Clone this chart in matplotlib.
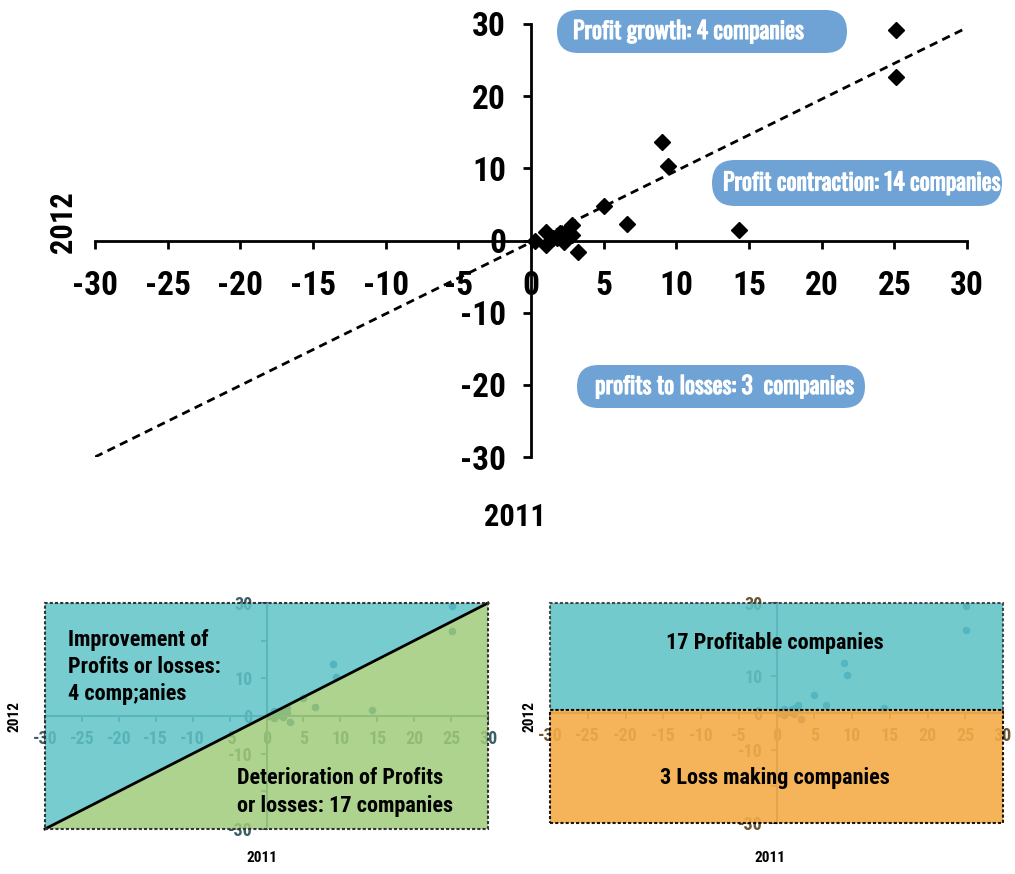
import matplotlib
matplotlib.use("Agg")
import matplotlib.pyplot as plt
import matplotlib.patheffects as pe
from matplotlib.patches import FancyBboxPatch, Rectangle, Polygon

plt.rcParams['font.family'] = ['Roboto Condensed', 'Open Sans Condensed', 'DejaVu Sans']
plt.rcParams['axes.unicode_minus'] = False
DIN = ['Oswald', 'Roboto Condensed', 'DejaVu Sans']

# profit 2011 vs 2012 per company
x2011 = [25.1, 25.1, 9.0, 9.4, 5.0, 6.6, 14.3, 3.2, 0.3, 1.0, 1.0, 1.5, 2.0, 2.3, 2.8, 2.8, 1.8, 2.5]
y2012 = [29.2, 22.6, 13.7, 10.3, 4.8, 2.3, 1.5, -1.6, 0.0, 1.2, -0.6, 0.4, 1.0, -0.2, 2.1, 0.7, 0.3, 1.3]

diag = [-30, 30]
main_xticks = list(range(-30, 31, 5))
main_yticks = list(range(-30, 31, 10))
small_yticks = [-30, -20, -10, 0, 10, 20, 30]
small_ylabels = ['-30', '', '-10', '0', '10', '', '30']

box_labels = ["Profit growth: 4 companies", "Profit contraction: 14 companies",
              "profits to losses: 3  companies"]
left_labels = [["Improvement of", "Profits or losses:", "4 comp;anies"],
               ["Deterioration of Profits", "or losses: 17 companies"]]
right_labels = ["17 Profitable companies", "3 Loss making companies"]

W, H = 1015, 874
fig = plt.figure(figsize=(W / 100, H / 100), dpi=100)


def frac(x0, y0, x1, y1):
    # pixel box (top-left origin) -> figure fraction rect
    return [x0 / W, 1 - y1 / H, (x1 - x0) / W, (y1 - y0) / H]


def centre_spines(ax, lw, color):
    for s in ['left', 'bottom']:
        ax.spines[s].set_position('zero')
        ax.spines[s].set_linewidth(lw)
        ax.spines[s].set_color(color)
    ax.spines['top'].set_visible(False)
    ax.spines['right'].set_visible(False)


# ---- main chart
ax = fig.add_axes(frac(95, 24, 967, 457))
ax.set_xlim(-30, 30)
ax.set_ylim(-30, 30)
centre_spines(ax, 2.0, 'black')
ax.plot(diag, [-30, 29.5], ls=(0, (3, 2)), color='black', lw=2.0, zorder=2)
ax.plot(x2011, y2012, 'D', color='black', ms=8.5, zorder=3, clip_on=False)
ax.set_xticks(main_xticks)
ax.set_yticks(main_yticks)
ax.tick_params(axis='x', direction='out', length=6, width=2, pad=15, labelsize=24)
ax.tick_params(axis='y', direction='out', length=6, width=2, pad=12, labelsize=24)
for t in ax.get_xticklabels() + ax.get_yticklabels():
    t.set_fontweight('bold')

# overlay for rounded labels and axis titles, 1 unit = 1 px
ov = fig.add_axes([0, 0, 1, 1], zorder=10)
ov.set_xlim(0, W)
ov.set_ylim(H, 0)
ov.axis('off')
ov.patch.set_alpha(0)

boxes = [(557, 10, 847, 53), (712, 160, 1002, 206), (577, 365, 865, 408)]
text_left = [573, 723, 595]
for (x0, y0, x1, y1), tx, lab in zip(boxes, text_left, box_labels):
    r = (y1 - y0) / 2
    ov.add_patch(FancyBboxPatch((x0 + r, y0 + r), x1 - x0 - 2 * r, y1 - y0 - 2 * r,
                                boxstyle=f"round,pad={r}", fc='#6fa3d6', ec='none'))
    ov.text(tx, (y0 + y1) / 2, lab, color='white', fontsize=17, family=DIN,
            ha='left', va='center',
            path_effects=[pe.withStroke(linewidth=0.8, foreground='white')])

ov.text(63, 222, "2012", rotation=90, fontsize=22, fontweight='bold', ha='center', va='center')
ov.text(515, 517, "2011", fontsize=22, fontweight='bold', ha='center', va='center')


# ---- small panels
def small_panel(rect, tick_col):
    a = fig.add_axes(rect)
    a.set_xlim(-30, 30)
    a.set_ylim(-30, 30)
    centre_spines(a, 1.5, '#3f6f7a')
    a.plot(x2011, y2012, 'o', color='#1a5f95', ms=4.5, zorder=1, clip_on=False)
    a.set_xticks(main_xticks)
    a.set_yticks(small_yticks)
    a.set_yticklabels(small_ylabels)
    a.tick_params(direction='out', length=4, width=1.2, labelsize=13, colors=tick_col, pad=6)
    for t in a.get_xticklabels() + a.get_yticklabels():
        t.set_fontweight('bold')
    return a


axl = small_panel(frac(45, 603, 488, 829), '#3a5f66')
axl.add_patch(Polygon([(-30, 30), (30, 30), (-30, -30)], closed=True, fc='#5ec3c7', ec='none',
                      alpha=0.85, zorder=5, clip_on=False))
axl.add_patch(Polygon([(-30, -30), (30, 30), (30, -30)], closed=True, fc='#a0cc7a', ec='none',
                      alpha=0.85, zorder=5, clip_on=False))
axl.plot(diag, diag, color='black', lw=2, zorder=6, clip_on=False)
axl.add_patch(Rectangle((-30, -30), 60, 60, fill=False, ec='#333333', lw=1.5, ls=(0, (1.5, 1)),
                        zorder=7, clip_on=False))
for i, line in enumerate(left_labels[0]):
    ov.text(68, 640 + 27 * i, line, fontsize=16, fontweight='bold', ha='left', va='center')
for i, line in enumerate(left_labels[1]):
    ov.text(237, 778 + 28 * i, line, fontsize=16, fontweight='bold', ha='left', va='center')
ov.text(15, 717, "2012", rotation=90, fontsize=11, fontweight='bold', ha='center', va='center')
ov.text(262, 858, "2011", fontsize=11, fontweight='bold', ha='center', va='center')

axr = small_panel(frac(550, 603, 1003, 823), '#6a5530')
axr.add_patch(Rectangle((-30, 0.8), 60, 29.2, fc='#5ec3c7', ec='#333333', lw=1.5, ls=(0, (1.5, 1)),
                        alpha=0.88, zorder=5, clip_on=False))
axr.add_patch(Rectangle((-30, -30), 60, 30.8, fc='#f5ac48', ec='black', lw=1.5, ls=(0, (1.5, 1)),
                        alpha=0.9, zorder=5, clip_on=False))
ov.text(775, 643, right_labels[0], fontsize=16, fontweight='bold', ha='center', va='center')
ov.text(775, 778, right_labels[1], fontsize=16, fontweight='bold', ha='center', va='center')
ov.text(530, 717, "2012", rotation=90, fontsize=11, fontweight='bold', ha='center', va='center')
ov.text(770, 858, "2011", fontsize=11, fontweight='bold', ha='center', va='center')

fig.savefig("out.png", dpi=100)
